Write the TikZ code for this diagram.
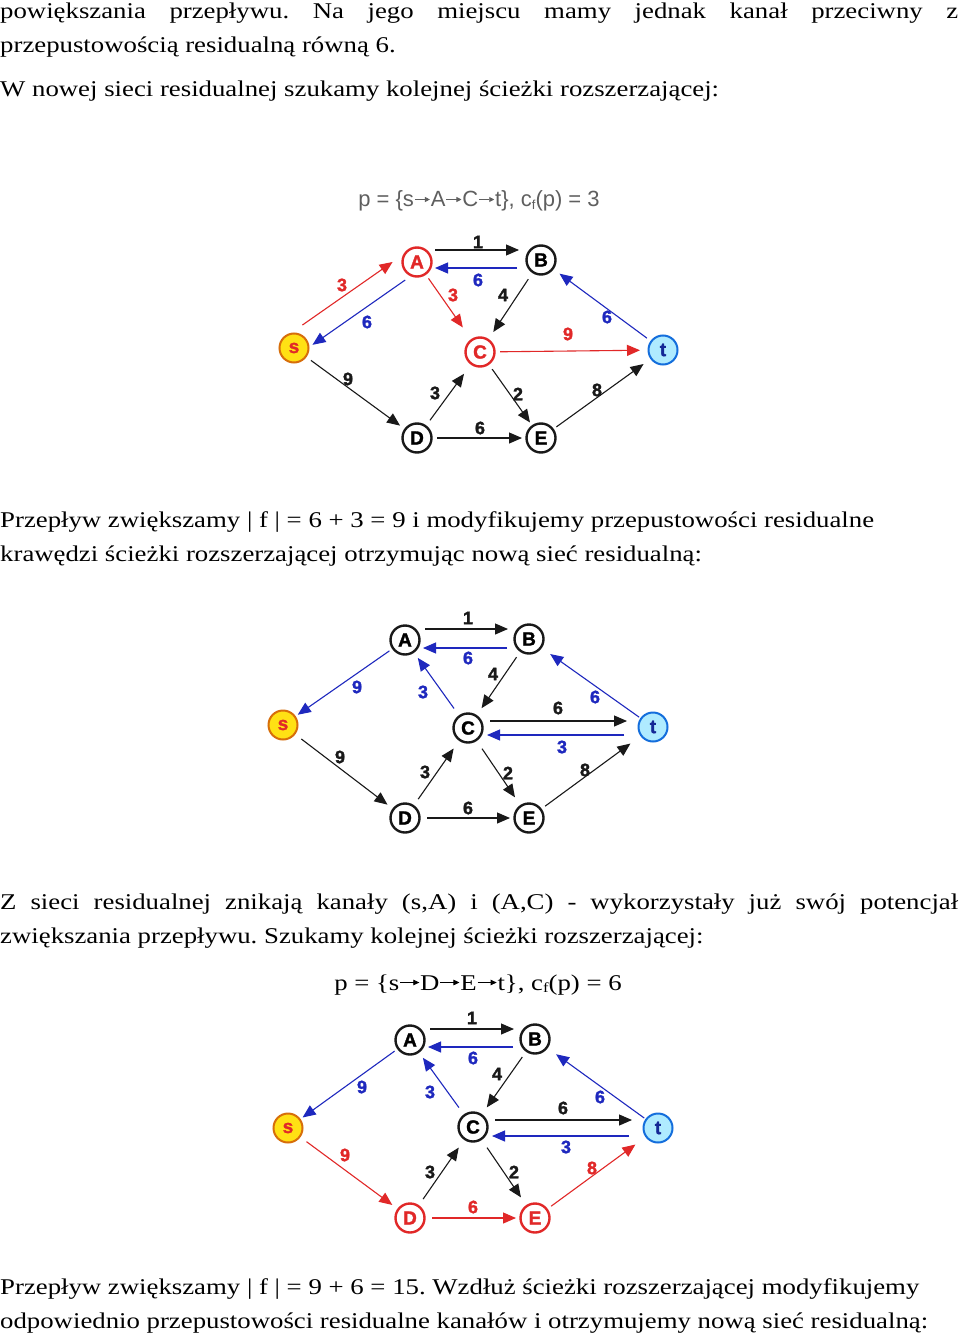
\documentclass[tikz,border=0pt]{standalone}
\usepackage{fontspec}
\setmainfont{Liberation Serif}[FakeStretch=1.19]
\newfontfamily\gsans{Liberation Sans}
\newfontfamily\gheavy{Liberation Sans}[FakeBold=1.6]
\usetikzlibrary{arrows.meta,calc}
\definecolor{ered}{RGB}{225,40,40}
\definecolor{eblue}{RGB}{30,40,190}
\definecolor{eblack}{RGB}{25,25,25}
\definecolor{syellow}{RGB}{255,225,20}
\definecolor{sborder}{RGB}{215,110,10}
\definecolor{tcyan}{RGB}{175,235,255}
\definecolor{tborder}{RGB}{20,110,220}
\definecolor{tletter}{RGB}{20,40,150}
\definecolor{titlegray}{RGB}{95,95,95}
\newcommand{\sarr}{\kern0.5pt\tikz[baseline=0pt]\draw[draw=titlegray, line width=0.9pt, -{Triangle[length=5pt,width=5pt]}] (0pt,7.5pt) -- (15pt,7.5pt);\kern0.5pt}
\newcommand{\barr}{\kern0.5pt\tikz[baseline=0pt]\draw[draw=black, line width=0.8pt, -{Triangle[length=6pt,width=5.5pt]}] (0pt,7.5pt) -- (19pt,7.5pt);\kern0.5pt}
\frenchspacing
\begin{document}
\begin{tikzpicture}[x=1pt,y=-1pt,
 vtx/.style={circle, draw=eblack, line width=2.4pt, fill=white, minimum size=29pt, inner sep=0pt, font=\gheavy\bfseries\fontsize{19}{19}\selectfont},
 rvtx/.style={vtx, draw=ered, text=ered},
 svtx/.style={vtx, fill=syellow, draw=sborder, text=ered, line width=2pt},
 tvtx/.style={vtx, fill=tcyan, draw=tborder, text=tletter, line width=2pt},
 edg/.style={line width=1.1pt, draw=eblack, -{Triangle[length=13pt,width=11pt]}, shorten <=21pt, shorten >=22pt},
 redg/.style={edg, draw=ered},
 bedg/.style={edg, draw=eblue},
 lbl/.style={font=\gheavy\bfseries\fontsize{18}{18}\selectfont, text=eblack, inner sep=0pt},
 rlbl/.style={lbl, text=ered},
 blbl/.style={lbl, text=eblue},
 body/.style={anchor=base west, inner sep=0pt, font=\fontsize{22.5}{27}\selectfont},
 ttl/.style={anchor=base, inner sep=0pt, font=\gsans\fontsize{22}{22}\selectfont, text=titlegray}
]
\useasboundingbox[fill=white] (0,0) rectangle (960,1337);

% ---------- text ----------
\node[body] (l1) at (0,19) {\makebox[958pt][s]{powiększania przepływu. Na jego miejscu mamy jednak kanał przeciwny z}};
\node[body] (l2) at (0,53) {przepustowością residualną równą 6.};
\node[body] (l3) at (0,97) {W nowej sieci residualnej szukamy kolejnej ścieżki rozszerzającej:};
\node[ttl] (t1title) at (479,207) {p = \{s\sarr A\sarr C\sarr t\}, c{\fontsize{13}{13}\selectfont\raisebox{-3pt}{f}}(p) = 3};
\node[body] (l4) at (0,527) {Przepływ zwiększamy | f | = 6 + 3 = 9 i modyfikujemy przepustowości residualne};
\node[body] (l5) at (0,561) {krawędzi ścieżki rozszerzającej otrzymując nową sieć residualną:};
\node[body] (l6) at (0,909) {\makebox[958pt][s]{Z sieci residualnej znikają kanały (s,A) i (A,C) - wykorzystały już swój potencjał}};
\node[body] (l7) at (0,943) {zwiększania przepływu. Szukamy kolejnej ścieżki rozszerzającej:};
\node[body, anchor=base] (l8) at (478,990) {p = \{s\barr D\barr E\barr t\}, c{\fontsize{14}{14}\selectfont\raisebox{-2pt}{f}}(p) = 6};
\node[body] (l9) at (0,1294) {Przepływ zwiększamy | f | = 9 + 6 = 15. Wzdłuż ścieżki rozszerzającej modyfikujemy};
\node[body] (l10) at (0,1328) {odpowiednio przepustowości residualne kanałów i otrzymujemy nową sieć residualną:};

% ---------- graph 1 ----------
\node[svtx] (s1) at (294,348) {s};
\node[rvtx] (A1) at (417,262) {A};
\node[vtx]  (B1) at (541,260) {B};
\node[rvtx] (C1) at (480,352) {C};
\node[tvtx] (t1) at (663,350) {t};
\node[vtx]  (D1) at (417,438) {D};
\node[vtx]  (E1) at (541,438) {E};
\draw[redg, shorten <=20pt, shorten >=20pt] ($(s1)!14pt!90:(A1)$) -- ($(A1)!14pt!-90:(s1)$);
\draw[bedg, shorten <=20pt, shorten >=17pt] ($(A1)!8pt!90:(s1)$) -- ($(s1)!8pt!-90:(A1)$);
\draw[edg, shorten <=18pt, shorten >=22pt] ($(A1)+(0,-12)$) -- ($(A1 -| B1)+(0,-12)$);
\draw[bedg, shorten <=24pt, shorten >=18pt] ($(B1)+(0,8)$) -- ($(B1 -| A1)+(0,8)$);
\draw[redg, shorten <=20pt, shorten >=30pt] (A1.center) -- (C1.center);
\draw[edg, shorten <=23pt, shorten >=24pt] (B1.center) -- (C1.center);
\draw[redg, shorten <=20pt, shorten >=23pt] (C1.center) -- (t1.center);
\draw[bedg, shorten <=20pt, shorten >=23pt] (t1.center) -- (B1.center);
\draw[edg, shorten <=21pt, shorten >=21pt] (s1.center) -- (D1.center);
\draw[edg, shorten <=22pt, shorten >=27pt] (D1.center) -- (C1.center);
\draw[edg, shorten <=21pt, shorten >=19pt] (C1.center) -- (E1.center);
\draw[edg, shorten <=20pt, shorten >=19pt] (D1.center) -- (E1.center);
\draw[edg, shorten <=19pt, shorten >=24pt] (E1.center) -- (t1.center);
\node[rlbl] (g1a) at (342,285) {3};
\node[blbl] (g1b) at (367,322) {6};
\node[lbl]  (g1c) at (478,242) {1};
\node[blbl] (g1d) at (478,280) {6};
\node[rlbl] (g1e) at (453,295) {3};
\node[lbl]  (g1f) at (503,295) {4};
\node[rlbl] (g1g) at (568,334) {9};
\node[blbl] (g1h) at (607,317) {6};
\node[lbl]  (g1i) at (348,379) {9};
\node[lbl]  (g1j) at (435,393) {3};
\node[lbl]  (g1k) at (518,394) {2};
\node[lbl]  (g1l) at (480,428) {6};
\node[lbl]  (g1m) at (597,390) {8};

% ---------- graph 2 ----------
\node[svtx] (s2) at (283,725) {s};
\node[vtx]  (A2) at (405,640) {A};
\node[vtx]  (B2) at (529,639) {B};
\node[vtx]  (C2) at (468,728) {C};
\node[tvtx] (t2) at (653,727) {t};
\node[vtx]  (D2) at (405,818) {D};
\node[vtx]  (E2) at (529,818) {E};
\draw[edg, shorten <=20pt, shorten >=21pt] ($(A2)+(0,-11)$) -- ($(A2 -| B2)+(0,-11)$);
\draw[bedg, shorten <=22pt, shorten >=18pt] ($(B2)+(0,9)$) -- ($(B2 -| A2)+(0,9)$);
\draw[bedg, shorten <=19pt, shorten >=18pt] (A2.center) -- (s2.center);
\draw[bedg, shorten <=24pt, shorten >=22pt] (C2.center) -- (A2.center);
\draw[edg, shorten <=22pt, shorten >=24pt] (B2.center) -- (C2.center);
\draw[edg, shorten <=22pt, shorten >=26pt] ($(C2)+(0,-7)$) -- ($(C2 -| t2)+(0,-7)$);
\draw[bedg, shorten <=29pt, shorten >=19pt] ($(t2)+(0,8)$) -- ($(t2 -| C2)+(0,8)$);
\draw[bedg, shorten <=17pt, shorten >=26pt] (t2.center) -- (B2.center);
\draw[edg, shorten <=23pt, shorten >=22pt] (s2.center) -- (D2.center);
\draw[edg, shorten <=23pt, shorten >=25pt] (D2.center) -- (C2.center);
\draw[edg, shorten <=25pt, shorten >=25pt] (C2.center) -- (E2.center);
\draw[edg, shorten <=22pt, shorten >=19pt] (D2.center) -- (E2.center);
\draw[edg, shorten <=20pt, shorten >=28pt] (E2.center) -- (t2.center);
\node[lbl]  (g2a) at (468,618) {1};
\node[blbl] (g2b) at (468,658) {6};
\node[blbl] (g2c) at (357,687) {9};
\node[blbl] (g2d) at (423,692) {3};
\node[lbl]  (g2e) at (493,674) {4};
\node[lbl]  (g2f) at (558,708) {6};
\node[blbl] (g2g) at (562,747) {3};
\node[blbl] (g2h) at (595,697) {6};
\node[lbl]  (g2i) at (340,757) {9};
\node[lbl]  (g2j) at (425,772) {3};
\node[lbl]  (g2k) at (508,773) {2};
\node[lbl]  (g2l) at (468,808) {6};
\node[lbl]  (g2m) at (585,770) {8};

% ---------- graph 3 ----------
\node[svtx] (s3) at (288,1128) {s};
\node[vtx]  (A3) at (410,1040) {A};
\node[vtx]  (B3) at (535,1039) {B};
\node[vtx]  (C3) at (473,1127) {C};
\node[tvtx] (t3) at (658,1128) {t};
\node[rvtx] (D3) at (410,1218) {D};
\node[rvtx] (E3) at (535,1218) {E};
\draw[edg, shorten <=20pt, shorten >=21pt] ($(A3)+(0,-11)$) -- ($(A3 -| B3)+(0,-11)$);
\draw[bedg, shorten <=22pt, shorten >=18pt] ($(B3)+(0,8)$) -- ($(B3 -| A3)+(0,8)$);
\draw[bedg, shorten <=19pt, shorten >=18pt] (A3.center) -- (s3.center);
\draw[bedg, shorten <=24pt, shorten >=22pt] (C3.center) -- (A3.center);
\draw[edg, shorten <=22pt, shorten >=24pt] (B3.center) -- (C3.center);
\draw[edg, shorten <=22pt, shorten >=26pt] ($(C3)+(0,-7)$) -- ($(C3 -| t3)+(0,-7)$);
\draw[bedg, shorten <=29pt, shorten >=19pt] ($(t3)+(0,8)$) -- ($(t3 -| C3)+(0,8)$);
\draw[bedg, shorten <=17pt, shorten >=26pt] (t3.center) -- (B3.center);
\draw[redg, shorten <=23pt, shorten >=22pt] (s3.center) -- (D3.center);
\draw[edg, shorten <=23pt, shorten >=25pt] (D3.center) -- (C3.center);
\draw[edg, shorten <=25pt, shorten >=25pt] (C3.center) -- (E3.center);
\draw[redg, shorten <=22pt, shorten >=19pt] (D3.center) -- (E3.center);
\draw[redg, shorten <=20pt, shorten >=28pt] (E3.center) -- (t3.center);
\node[lbl]  (g3a) at (472,1018) {1};
\node[blbl] (g3b) at (473,1058) {6};
\node[blbl] (g3c) at (362,1087) {9};
\node[blbl] (g3d) at (430,1092) {3};
\node[lbl]  (g3e) at (497,1074) {4};
\node[lbl]  (g3f) at (563,1108) {6};
\node[blbl] (g3g) at (566,1147) {3};
\node[blbl] (g3h) at (600,1097) {6};
\node[rlbl] (g3i) at (345,1155) {9};
\node[lbl]  (g3j) at (430,1172) {3};
\node[lbl]  (g3k) at (514,1172) {2};
\node[rlbl] (g3l) at (473,1207) {6};
\node[rlbl] (g3m) at (592,1168) {8};
\end{tikzpicture}
\end{document}
